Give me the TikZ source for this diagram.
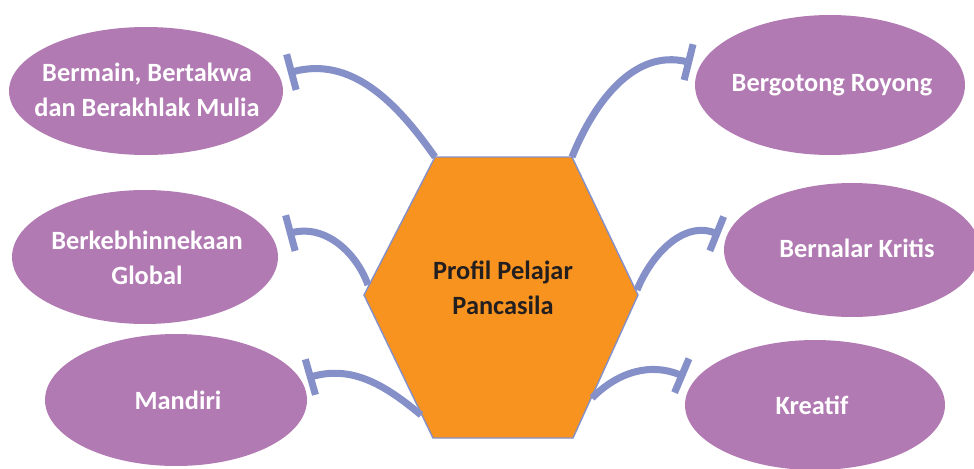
\documentclass[tikz,border=0pt]{standalone}
\usepackage{fontspec}
\setmainfont{Carlito}
\usepackage{tikz}
\usetikzlibrary{arrows.meta,shapes.geometric}

\definecolor{blobfill}{HTML}{B27AB3}
\definecolor{linkblue}{HTML}{8590C8}
\definecolor{hexorange}{HTML}{F7931E}
\definecolor{hextext}{HTML}{231F20}

\begin{document}
\begin{tikzpicture}[
			x=0.02cm, y=0.02cm,
			blob/.style={ellipse, fill=blobfill, inner sep=0pt},
			blobtext/.style={align=center, text=white, font=\fontsize{15}{20}\selectfont\bfseries},
			hextxt/.style={align=center, text=hextext, font=\fontsize{15}{20}\selectfont\bfseries},
			link/.style={draw=linkblue, line width=4pt, -{Bar[width=21pt]}}
			]
			\useasboundingbox (0,0) rectangle (974,468);

			\coordinate (htl) at (435,311);
			\coordinate (htr) at (572,311);
			\coordinate (hr) at (638,173);
			\coordinate (hbr) at (573,30);
			\coordinate (hbl) at (433,30);
			\coordinate (hl) at (364,173);
			\filldraw[fill=hexorange, draw=linkblue, line width=0.8pt]
			(htl) -- (htr) -- (hr) -- (hbr) -- (hbl) -- (hl) -- cycle;
			\node[hextxt] (profil) at (503,180) {Profil Pelajar\\Pancasila};

			\node[blob, minimum width=5.48cm, minimum height=2.56cm] (berakhlak) at (146,377) {};
			\node[blob, minimum width=5.40cm, minimum height=2.80cm] (gotong) at (830,383) {};
			\node[blob, minimum width=5.32cm, minimum height=2.68cm] (kebhinnekaan) at (145,211) {};
			\node[blob, minimum width=5.12cm, minimum height=2.68cm] (nalar) at (852,218) {};
			\node[blob, minimum width=5.24cm, minimum height=2.64cm] (mandiri) at (176,68) {};
			\node[blob, minimum width=5.20cm, minimum height=2.60cm] (kreatif) at (815,63) {};

			\node[blobtext] at (147,378) {Bermain, Bertakwa\\dan Berakhlak Mulia};
			\node[blobtext] at (832,383) {Bergotong Royong};
			\node[blobtext] at (147,210) {Berkebhinnekaan\\Global};
			\node[blobtext] at (857,220) {Bernalar Kritis};
			\node[blobtext] at (178,68) {Mandiri};
			\node[blobtext] at (812,63) {Kreatif};

			\coordinate (s3) at (368,183);
			\coordinate (s4) at (637,178);
			\coordinate (s5) at (421,53);
			\coordinate (s6) at (592,70);
			\coordinate (b1) at (288,395);
			\coordinate (b2) at (692,405);
			\coordinate (b3) at (287,234);
			\coordinate (b4) at (720,233);
			\coordinate (b5) at (307,90);
			\coordinate (b6) at (685,91);

			\draw[link] (htl) to[out=125, in=15] (b1);
			\draw[link] (htr) to[out=68, in=166] (b2);
			\draw[link] (s3) to[out=110, in=15] (b3);
			\draw[link] (s4) to[out=68, in=158] (b4);
			\draw[link] (s5) to[out=140, in=16] (b5);
			\draw[link] (s6) to[out=45, in=157] (b6);
		\end{tikzpicture}
\end{document}
